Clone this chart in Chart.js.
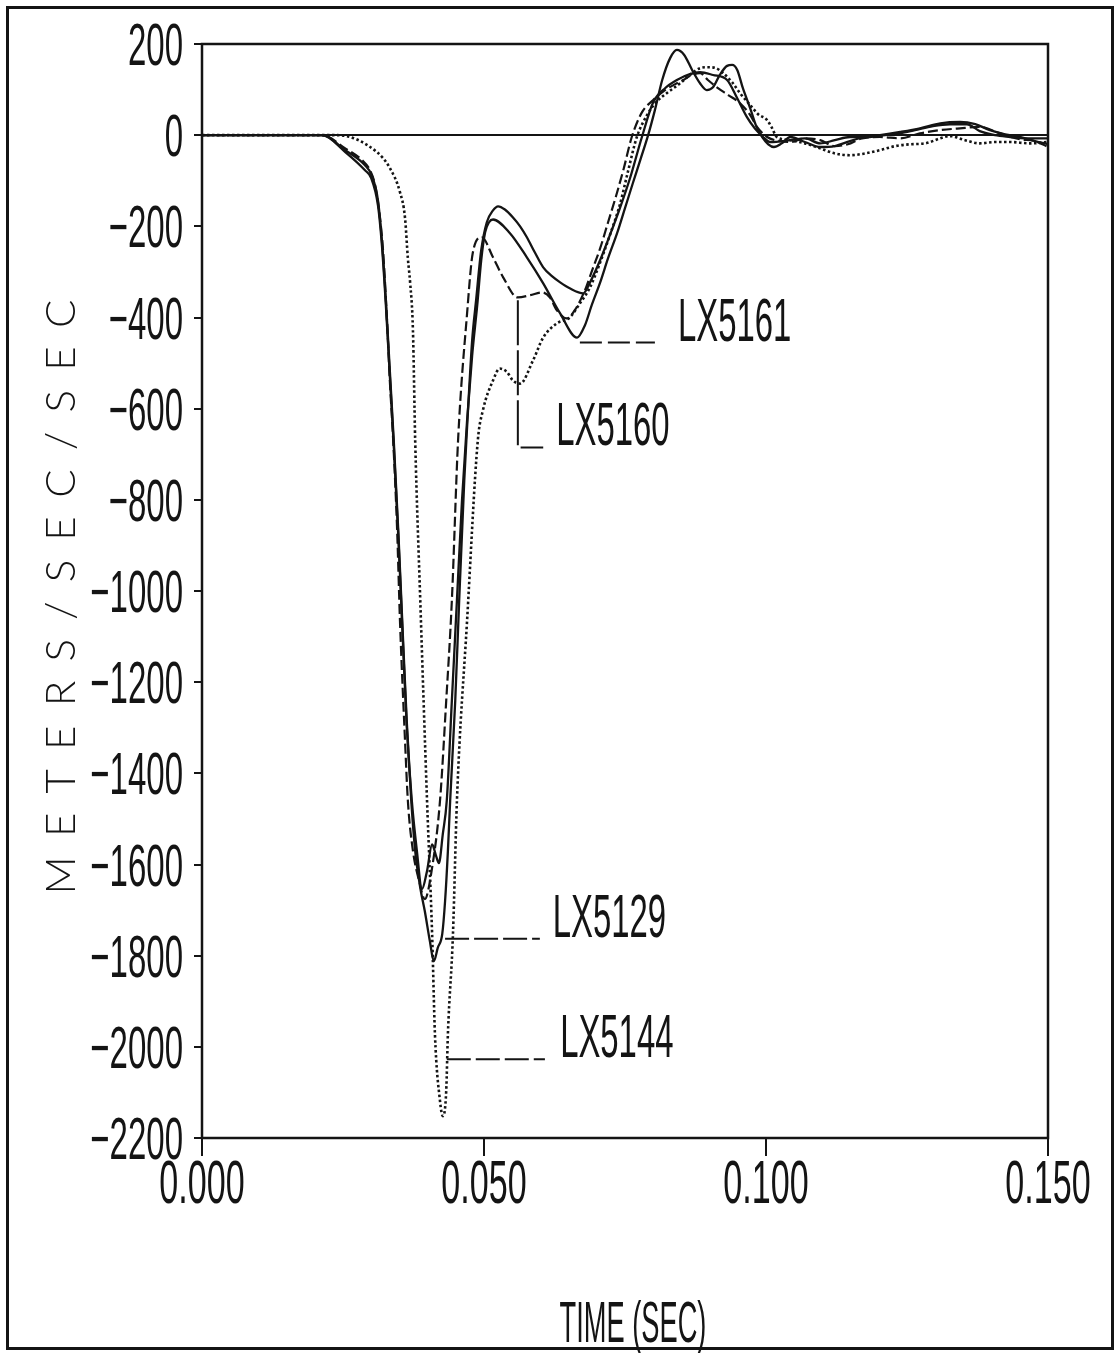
<!DOCTYPE html>
<html>
<head>
<meta charset="utf-8">
<title>Acceleration vs time</title>
<script src="https://cdn.jsdelivr.net/npm/chart.js@4.4.0/dist/chart.umd.min.js"></script>
<style>
  html, body { margin: 0; padding: 0; background: #fff; }
  canvas { display: block; }
</style>
</head>
<body>
<canvas id="chart" width="1117" height="1353"></canvas>
<script>
// Acceleration traces, time in ms, acceleration in m/s/s

const timeLX5129 = [0, 21.3, 25.4, 28.9, 30.1, 31.2, 31.9, 32.6, 33.3, 34.0, 34.8, 35.5, 36.3, 37.1, 37.8, 38.7, 39.5, 40.4, 41.1, 41.8, 42.6, 43.1, 43.6, 44.0, 44.9, 45.6, 46.5, 47.0, 47.9, 48.6, 49.5, 50.5, 51.6, 52.5, 53.7, 55.1, 56.4, 57.6, 59.0, 60.5, 62.1, 63.5, 65.2, 67.6, 68.8, 70.6, 72.3, 74.1, 75.9, 78.0, 80.0, 82.1, 84.2, 86.5, 88.3, 90.6, 93.1, 94.9, 96.6, 98.0, 99.5, 100.7, 104.3, 106.9, 109.6, 112.2, 114.9, 118.4, 121.1, 123.8, 126.4, 129.6, 132.6, 135.6, 137.9, 140.6, 143.3, 145.9, 150.0];
const accLX5129 = [0, 0, -33, -66, -88, -143, -231, -362, -516, -670, -867, -1065, -1285, -1460, -1570, -1651, -1702, -1768, -1812, -1783, -1752, -1680, -1570, -1460, -1241, -1021, -758, -641, -450, -362, -253, -191, -165, -156, -163, -180, -200, -224, -257, -290, -310, -323, -336, -347, -323, -274, -220, -160, -94, -4, 72, 103, 121, 134, 138, 132, 121, 81, 40, 15, -4, -15, -11, -7, -18, -11, -4, -4, 0, 4, 11, 20, 24, 24, 9, 0, -4, -7, -7];

const timeLX5161 = [0, 21.3, 25.4, 28.9, 30.0, 31.2, 31.9, 32.6, 33.3, 34.0, 34.8, 35.5, 36.3, 37.2, 38.1, 39.0, 39.9, 40.8, 41.5, 42.0, 42.7, 43.4, 44.3, 45.2, 46.1, 47.0, 47.9, 48.8, 49.5, 50.2, 50.9, 51.6, 54.6, 57.6, 60.5, 63.5, 66.5, 67.9, 69.1, 70.6, 72.0, 73.6, 75.0, 76.4, 77.8, 79.1, 80.3, 81.6, 83.0, 84.2, 85.5, 86.9, 88.3, 89.5, 90.6, 91.8, 93.1, 94.0, 94.9, 95.9, 97.2, 98.2, 99.3, 100.4, 101.4, 102.8, 104.3, 106.9, 109.6, 112.2, 114.9, 117.6, 120.2, 123.8, 127.3, 130.9, 134.4, 137.1, 139.7, 142.4, 145.0, 147.7, 150.0];
const accLX5161 = [0, 0, -37, -77, -94, -154, -242, -373, -527, -681, -878, -1076, -1296, -1460, -1570, -1654, -1614, -1556, -1581, -1597, -1533, -1460, -1241, -1021, -801, -626, -483, -373, -275, -213, -191, -185, -215, -268, -325, -391, -444, -417, -373, -323, -270, -215, -160, -105, -51, 0, 55, 121, 169, 187, 176, 143, 114, 99, 105, 132, 152, 154, 143, 103, 59, 22, -4, -20, -26, -18, -4, -15, -26, -24, -13, -4, 0, 7, 15, 26, 29, 24, 11, 2, -4, -13, -20];

const timeLX5160 = [0, 21.3, 25.4, 28.4, 29.8, 30.7, 31.4, 32.1, 32.8, 33.3, 33.9, 34.6, 35.1, 36.0, 36.5, 37.4, 38.5, 39.5, 40.8, 42.2, 43.3, 44.3, 45.4, 47.0, 48.0, 49.6, 51.6, 53.4, 56.0, 58.2, 60.3, 61.7, 62.9, 64.7, 66.1, 67.9, 69.3, 70.6, 72.0, 73.4, 74.8, 76.2, 78.0, 80.0, 82.1, 83.9, 85.3, 86.9, 88.3, 89.7, 91.3, 93.3, 95.4, 97.2, 98.4, 100.2, 101.6, 104.3, 106.9, 109.6, 112.2, 114.5, 117.0, 120.2, 123.8, 127.3, 130.9, 134.4, 137.9, 141.5, 145.0, 147.7, 150.0];
const accLX5160 = [0, 0, -29, -55, -77, -110, -165, -253, -406, -538, -670, -867, -1065, -1329, -1460, -1570, -1636, -1676, -1607, -1460, -1241, -1021, -670, -391, -259, -224, -268, -312, -356, -351, -345, -356, -384, -402, -384, -340, -292, -248, -191, -134, -72, -4, 50, 77, 99, 112, 121, 132, 136, 121, 105, 88, 70, 44, 18, -4, -11, -15, -7, -11, -24, -20, -7, -4, -7, 4, 11, 15, 18, 4, -9, -13, -26];

const timeLX5144 = [0, 24.0, 31.0, 33.3, 35.1, 36.0, 36.5, 36.9, 37.4, 37.8, 38.7, 39.9, 40.8, 41.3, 42.2, 42.7, 43.3, 43.6, 44.5, 45.2, 47.0, 48.9, 49.8, 51.6, 52.8, 54.1, 55.1, 56.4, 58.7, 60.5, 62.9, 65.2, 67.0, 68.8, 70.6, 72.3, 74.1, 75.5, 77.1, 78.9, 80.5, 82.6, 84.8, 86.5, 88.3, 89.7, 91.1, 92.4, 94.0, 95.4, 97.2, 98.6, 100.2, 101.1, 101.9, 104.3, 106.9, 109.6, 112.2, 114.9, 117.6, 120.2, 122.9, 125.5, 128.2, 130.9, 132.6, 135.3, 137.9, 140.6, 143.3, 146.8, 150.0];
const accLX5144 = [0, 0, -37, -72, -125, -182, -270, -323, -428, -670, -1021, -1460, -1752, -1972, -2119, -2152, -2097, -1972, -1752, -1460, -1065, -670, -604, -538, -512, -520, -538, -545, -494, -444, -413, -400, -369, -334, -279, -220, -152, -81, -4, 44, 72, 94, 114, 132, 147, 149, 147, 136, 116, 92, 66, 46, 33, 15, -4, -11, -18, -29, -40, -44, -40, -33, -24, -20, -18, -7, -2, -11, -18, -15, -15, -18, -15];

// axis ticks (seconds, m/s/s)
const xTicks = [0, 0.05, 0.1, 0.15];
const yTicks = [200, 0, -200, -400, -600, -800, -1000, -1200, -1400, -1600, -1800, -2000, -2200];

// callouts: name, where the text starts (ms) and the level of its leader line
const labelNames = ["LX5161", "LX5160", "LX5129", "LX5144"];
const labelTimes = [84.4, 62.8, 62.2, 63.5];
const labelValues = [-455, -685, -1763, -2027];

// leader lines (ms, m/s/s)
const leader5161 = { t: [67.0, 80.3], v: [-455, -455] };
const leader5160 = { t: [56.0, 56.0, 60.5], v: [-362, -685, -685] };
const leader5129 = { t: [43.1, 59.9], v: [-1763, -1763] };
const leader5144 = { t: [43.4, 60.8], v: [-2027, -2027] };

const INK = "#141414";
const FONT = '"Liberation Sans", Arial, sans-serif';

function toPoints(times, values) {
    const n = Math.min(times.length, values.length);
    const pts = [];
    for (let i = 0; i < n; i++) pts.push({ x: times[i] / 1000, y: values[i] });
    return pts;
}

function curve(label, times, values, dash, width) {
    return {
        label,
        data: toPoints(times, values),
        borderColor: INK,
        borderWidth: width,
        borderDash: dash,
        borderCapStyle: "butt",
        borderJoinStyle: "round",
        cubicInterpolationMode: "monotone",
        pointRadius: 0,
        fill: false
    };
}

function leader(l, dash) {
    return {
        label: "leader",
        data: toPoints(l.t, l.v),
        borderColor: INK,
        borderWidth: 2,
        borderDash: dash,
        tension: 0,
        pointRadius: 0,
        fill: false
    };
}

// text squeezed sideways, like the plotter lettering
function narrowText(ctx, text, x, y, size, sx, align) {
    ctx.save();
    ctx.font = size + "px " + FONT;
    ctx.fillStyle = INK;
    ctx.textAlign = "left";
    ctx.textBaseline = "alphabetic";
    const w = ctx.measureText(text).width * sx;
    const left = align === "right" ? x - w : align === "center" ? x - w / 2 : x;
    ctx.translate(left, y);
    ctx.scale(sx, 1);
    ctx.fillText(text, 0, 0);
    ctx.restore();
}

function fmtY(v) {
    return v < 0 ? "\u2212" + Math.abs(v) : String(v);
}

const paperPlugin = {
    id: "paper",
    beforeDraw(chart) {
        const ctx = chart.ctx;
        ctx.save();
        ctx.fillStyle = "#fff";
        ctx.fillRect(0, 0, chart.width, chart.height);
        ctx.strokeStyle = INK;
        ctx.lineWidth = 3;
        ctx.strokeRect(7.5, 7.5, chart.width - 12, chart.height - 12);
        ctx.restore();
    },
    afterDraw(chart) {
        const ctx = chart.ctx;
        const a = chart.chartArea;
        const xs = chart.scales.x;
        const ys = chart.scales.y;

        ctx.save();
        ctx.strokeStyle = INK;
        ctx.lineWidth = 2.5;
        ctx.strokeRect(a.left, a.top, a.right - a.left, a.bottom - a.top);
        ctx.restore();

        // tick labels
        ys.ticks.forEach(t => {
            narrowText(ctx, fmtY(t.value), a.left - 19, ys.getPixelForValue(t.value) + 21, 60, 0.55, "right");
        });
        xs.ticks.forEach(t => {
            narrowText(ctx, t.value.toFixed(3), xs.getPixelForValue(t.value), a.bottom + 65, 62, 0.55, "center");
        });

        // axis titles
        narrowText(ctx, "TIME (SEC)", (a.left + a.right) / 2 + 8, chart.height - 11, 58, 0.47, "center");

        ctx.save();
        ctx.font = "300 42px Lato, " + FONT;
        ctx.fillStyle = INK;
        ctx.textBaseline = "alphabetic";
        ctx.textAlign = "left";
        const title = "METERS/SEC/SEC";
        const plain = ctx.measureText(title).width;
        const spacing = (595 - plain) / (title.length - 1);
        ctx.letterSpacing = spacing + "px";
        ctx.translate(75, (a.top + a.bottom) / 2 + 6);
        ctx.rotate(-Math.PI / 2);
        ctx.fillText(title, -595 / 2, 0);
        ctx.restore();

        // callout labels
        labelNames.forEach((name, i) => {
            const x = xs.getPixelForValue(labelTimes[i] / 1000);
            const y = ys.getPixelForValue(labelValues[i]) - 2;
            narrowText(ctx, name, x, y, 62, 0.53, "left");
        });
    }
};

const datasets = [
    curve("LX5129", timeLX5129, accLX5129, [], 2.3),
    curve("LX5161", timeLX5161, accLX5161, [], 2.3),
    curve("LX5160", timeLX5160, accLX5160, [10, 4], 2.2),
    curve("LX5144", timeLX5144, accLX5144, [2.5, 2.5], 2.6),
    leader(leader5161, [22, 6]),
    leader(leader5160, [45, 5]),
    leader(leader5129, [24, 5]),
    leader(leader5144, [24, 5])
];

new Chart(document.getElementById("chart"), {
    type: "line",
    data: { datasets },
    options: {
        responsive: false,
        animation: false,
        devicePixelRatio: 1,
        layout: { padding: { top: 44, right: 69, left: 0, bottom: 0 } },
        plugins: {
            legend: { display: false },
            tooltip: { enabled: false }
        },
        scales: {
            x: {
                type: "linear",
                min: 0,
                max: 0.15,
                afterBuildTicks: s => { s.ticks = xTicks.map(v => ({ value: v })); },
                afterFit: s => { s.height = 215; },
                ticks: { display: false },
                grid: { drawOnChartArea: false, tickColor: INK, tickLength: 18, lineWidth: 2 },
                border: { display: false }
            },
            y: {
                type: "linear",
                min: -2200,
                max: 200,
                afterBuildTicks: s => { s.ticks = yTicks.map(v => ({ value: v })); },
                afterFit: s => { s.width = 202; },
                ticks: { display: false },
                grid: {
                    color: c => (c.tick && c.tick.value === 0) ? INK : "rgba(0,0,0,0)",
                    tickColor: INK,
                    tickLength: 8,
                    lineWidth: 2
                },
                border: { display: false }
            }
        }
    },
    plugins: [paperPlugin]
});
</script>
</body>
</html>
